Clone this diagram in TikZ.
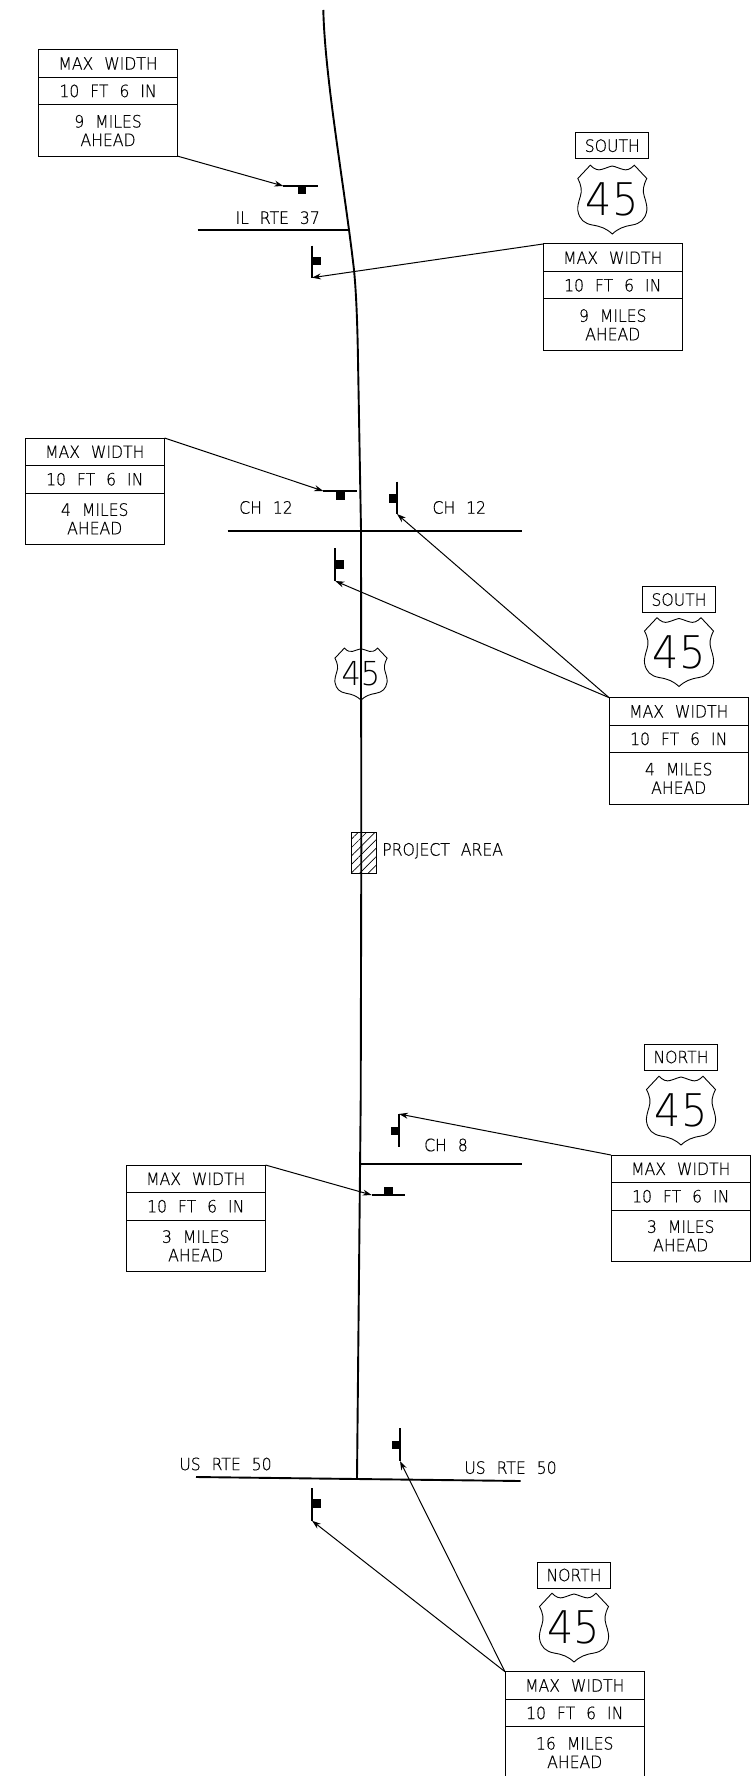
\documentclass[tikz,border=0pt]{standalone}
\usepackage{fontspec}
\setmainfont{DejaVu Sans ExtraLight}[WordSpace=2.2, FakeStretch=0.92, FakeBold=0.5]
\newfontfamily\shieldfont{DejaVu Sans ExtraLight}[FakeStretch=0.92]
\usetikzlibrary{arrows.meta, positioning, patterns.meta}

\tikzset{
    panelrow/.style={rectangle, draw, line width=1pt, fill=white, outer sep=0pt, inner sep=0pt, minimum width=139.5pt, minimum height=27.5pt, align=center, font=\fontsize{17}{18.5}\selectfont},
    panelend/.style={panelrow, minimum height=51.5pt},
    roadname/.style={font=\fontsize{17}{18}\selectfont, inner sep=0pt},
    dirbox/.style={rectangle, draw, line width=1pt, minimum width=73pt, minimum height=26pt, inner sep=0pt, font=\fontsize{17}{18}\selectfont},
    shieldnum/.style={font=\shieldfont\fontsize{45}{45}\selectfont, inner sep=0pt},
    road/.style={line width=1.9pt},
    leader/.style={-{Stealth[length=9pt,width=6pt]}, line width=1pt},
    post/.style={line width=1.7pt},
    plate/.style={fill=black, draw=none, minimum width=8.5pt, minimum height=8.5pt, inner sep=0pt, outer sep=0pt},
    pics/usshield/.style={code={
        \draw[line width=0.9pt, fill=white] (-34.5,-21) -- (-22,-34.3)
            .. controls (-18,-30) and (-14,-29) .. (-11,-30) .. controls (-7,-31) and (-3,-33) .. (0,-33.5)
            .. controls (3,-33) and (7,-31) .. (11,-30) .. controls (14,-29) and (18,-30) .. (22,-34.3)
            -- (34.5,-21) .. controls (31,-14) and (30,-9) .. (32,-3) .. controls (34,3) and (35,8) .. (34.5,11)
            .. controls (33,20) and (28,24) .. (20,25.5) .. controls (11,27) and (6,29) .. (0,34.5)
            .. controls (-6,29) and (-11,27) .. (-20,25.5) .. controls (-28,24) and (-33,20) .. (-34.5,11)
            .. controls (-35,8) and (-34,3) .. (-32,-3) .. controls (-30,-9) and (-31,-14) .. (-34.5,-21) -- cycle;
    }},
}

\begin{document}
\begin{tikzpicture}[x=1pt, y=-1pt]
    \useasboundingbox (0,0) rectangle (752,1776);

    % US 45 through the middle
    \draw[road] (323.3,10) .. controls (325,80) and (345,190) .. (354,270)
        .. controls (356.5,295) and (357.5,330) .. (358,360) -- (361,530) -- (361.3,850) -- (360.7,1100) -- (357,1479);
    \coordinate (jct) at (357,1479);

    % Shield on the road
    \pic[scale=0.755] at (361,674) {usshield};
    \draw[road] (361,640) -- (361,710);
    \node[font=\shieldfont\fontsize{33}{33}\selectfont, inner sep=0pt] (s45) at (361,674) {45};

    % Project area
    \node[rectangle, draw, line width=0.9pt, pattern={Lines[angle=45, distance=6pt, line width=0.7pt]}, minimum width=25.5pt, minimum height=41pt, inner sep=0pt] (proj) at (364,852.8) {};
    \node[roadname, right=5pt of proj, yshift=2pt] (projt) {PROJECT AREA};

    % Cross roads
    \coordinate (il) at (349,230);
    \coordinate (ile) at (197.7,230);
    \draw[road] (ile) -- (il);
    \node[roadname, anchor=east] (ilt) at (320,217.7) {IL RTE 37};

    \coordinate (ch12a) at (227.6,531);
    \coordinate (ch12b) at (522,531);
    \draw[road] (ch12a) -- (ch12b);
    \node[roadname] (ch12l) at (266,507.5) {CH 12};
    \node[roadname] (ch12r) at (459.3,507.5) {CH 12};

    \coordinate (ch8a) at (361,1164.3);
    \coordinate (ch8b) at (522,1164.3);
    \draw[road] (ch8a) -- (ch8b);
    \node[roadname] (ch8t) at (446,1145) {CH 8};

    \coordinate (usa) at (196,1477);
    \coordinate (usb) at (520.7,1481);
    \draw[road] (usa) -- (jct) -- (usb);
    \node[roadname] (uslt) at (225.5,1464) {US RTE 50};
    \node[roadname] (usrt) at (510.5,1467.6) {US RTE 50};

    % Advance signs, horizontal
    \coordinate (h1a) at (283.3,186);
    \coordinate (h1b) at (317.7,186);
    \draw[post] (h1a) -- (h1b);
    \node[plate, below right=0pt and 14.4pt of h1a] (h1p) {};
    \coordinate (h3a) at (323.3,491);
    \coordinate (h3b) at (356.7,491);
    \draw[post] (h3a) -- (h3b);
    \node[plate, below right=0pt and 12.7pt of h3a] (h3p) {};
    \coordinate (h7a) at (371.7,1195);
    \coordinate (h7b) at (405,1195);
    \draw[post] (h7a) -- (h7b);
    \node[plate, above right=0pt and 12.6pt of h7a] (h7p) {};

    % Advance signs, vertical
    \coordinate (v2a) at (312,245.7);
    \coordinate (v2b) at (312,277.7);
    \draw[post] (v2a) -- (v2b);
    \node[plate, below right=11.3pt and 0pt of v2a] (v2p) {};
    \coordinate (v4a) at (397,481.7);
    \coordinate (v4b) at (397,514);
    \draw[post] (v4a) -- (v4b);
    \node[plate, below left=12.6pt and 0pt of v4a] (v4p) {};
    \coordinate (v5a) at (335.3,548.3);
    \coordinate (v5b) at (335.3,581);
    \draw[post] (v5a) -- (v5b);
    \node[plate, below right=11.7pt and 0pt of v5a] (v5p) {};
    \coordinate (v6a) at (399,1114);
    \coordinate (v6b) at (399,1146.7);
    \draw[post] (v6a) -- (v6b);
    \node[plate, below left=12.7pt and 0pt of v6a] (v6p) {};
    \coordinate (v8a) at (400,1428);
    \coordinate (v8b) at (400,1461);
    \draw[post] (v8a) -- (v8b);
    \node[plate, below left=12.7pt and 0pt of v8a] (v8p) {};
    \coordinate (v9a) at (312,1488);
    \coordinate (v9b) at (312,1520.7);
    \draw[post] (v9a) -- (v9b);
    \node[plate, below right=11.3pt and 0pt of v9a] (v9p) {};

    % 9 miles, left
    \node[panelrow, anchor=north west] (a1) at (38.3,49.7) {MAX WIDTH};
    \node[panelrow, below=0pt of a1] (a2) {10 FT 6 IN};
    \node[panelend, below=0pt of a2] (a3) {9 MILES\\AHEAD};

    % 9 miles, right
    \node[dirbox] (bd) at (612.3,145.7) {SOUTH};
    \pic at (612.3,199.5) {usshield};
    \node[shieldnum] (b45) at (612.3,199.5) {45};
    \node[panelrow, anchor=north west] (b1) at (543,244) {MAX WIDTH};
    \node[panelrow, below=0pt of b1] (b2) {10 FT 6 IN};
    \node[panelend, below=0pt of b2] (b3) {9 MILES\\AHEAD};

    % 4 miles, left
    \node[panelrow, anchor=north west] (c1) at (25,438) {MAX WIDTH};
    \node[panelrow, below=0pt of c1] (c2) {10 FT 6 IN};
    \node[panelend, below=0pt of c2] (c3) {4 MILES\\AHEAD};

    % 4 miles, right
    \node[dirbox] (dd) at (679,599.6) {SOUTH};
    \pic at (679,652) {usshield};
    \node[shieldnum] (d45) at (679,652) {45};
    \node[panelrow, anchor=north west] (d1) at (609,697.6) {MAX WIDTH};
    \node[panelrow, below=0pt of d1] (d2) {10 FT 6 IN};
    \node[panelend, below=0pt of d2] (d3) {4 MILES\\AHEAD};

    % 3 miles, left
    \node[panelrow, anchor=north west] (e1) at (126,1165) {MAX WIDTH};
    \node[panelrow, below=0pt of e1] (e2) {10 FT 6 IN};
    \node[panelend, below=0pt of e2] (e3) {3 MILES\\AHEAD};

    % 3 miles, right
    \node[dirbox] (fd) at (681,1057) {NORTH};
    \pic at (681,1110.5) {usshield};
    \node[shieldnum] (f45) at (681,1110.5) {45};
    \node[panelrow, anchor=north west] (f1) at (611,1155) {MAX WIDTH};
    \node[panelrow, below=0pt of f1] (f2) {10 FT 6 IN};
    \node[panelend, below=0pt of f2] (f3) {3 MILES\\AHEAD};

    % 16 miles
    \node[dirbox] (gd) at (574,1575) {NORTH};
    \pic at (574,1627.5) {usshield};
    \node[shieldnum] (g45) at (574,1627.5) {45};
    \node[panelrow, anchor=north west] (g1) at (505,1671.7) {MAX WIDTH};
    \node[panelrow, below=0pt of g1] (g2) {10 FT 6 IN};
    \node[panelend, below=0pt of g2] (g3) {16 MILES\\AHEAD};

    % Leaders
    \draw[leader] (a3.south east) -- (h1a);
    \draw[leader] (b1.north west) -- (v2b);
    \draw[leader] (c1.north east) -- (h3a);
    \draw[leader] (d1.north west) -- (v4b);
    \draw[leader] (d1.north west) -- (v5b);
    \draw[leader] (f1.north west) -- (v6a);
    \draw[leader] (e1.north east) -- (h7a);
    \draw[leader] (g1.north west) -- (v8b);
    \draw[leader] (g1.north west) -- (v9b);
\end{tikzpicture}
\end{document}
